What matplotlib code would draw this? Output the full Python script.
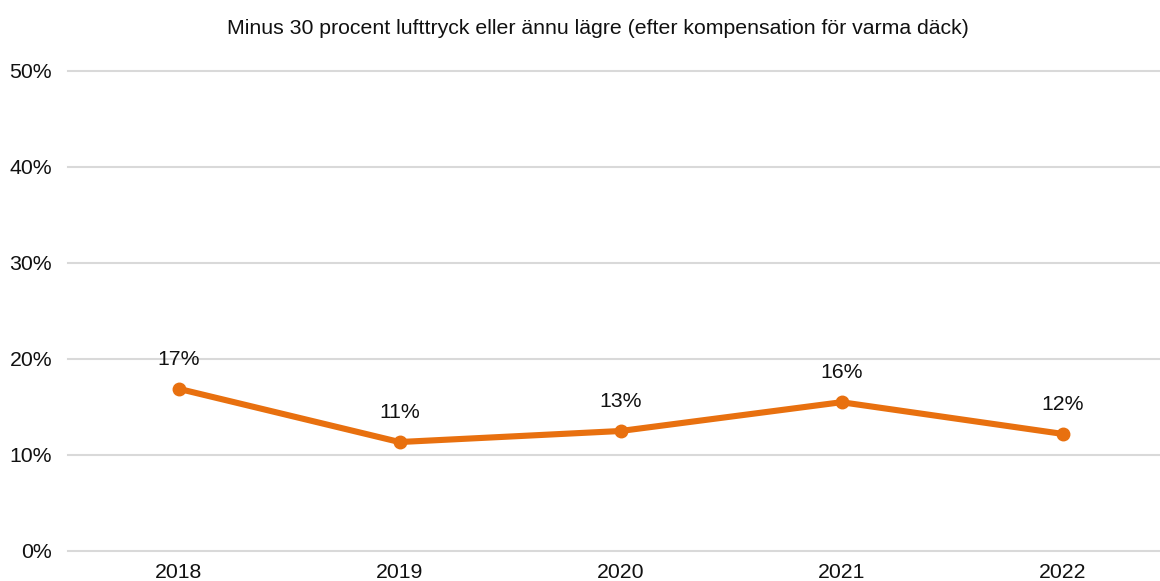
import matplotlib
matplotlib.use("Agg")
import matplotlib.pyplot as plt

# Data
years = ["2018", "2019", "2020", "2021", "2022"]
share = [0.169, 0.1135, 0.125, 0.155, 0.122]
labels = ["17%", "11%", "13%", "16%", "12%"]
yticks = [0, 0.1, 0.2, 0.3, 0.4, 0.5]
ytick_labels = ["0%", "10%", "20%", "30%", "40%", "50%"]

title = "Minus 30 procent lufttryck eller ännu lägre (efter kompensation för varma däck)"
orange = "#E8700F"

plt.rcParams["font.family"] = ["Liberation Sans", "DejaVu Sans"]
fs = 15.3

W, H = 1160, 581
fig = plt.figure(figsize=(W / 100, H / 100), dpi=100)
ax = fig.add_axes([68 / W, (H - 551) / H, (W - 68) / W, (551 - 71) / H])

x = list(range(len(years)))
ax.plot(x, share, color=orange, lw=4.4, marker="o", ms=9, solid_capstyle="round", zorder=3, clip_on=False)
for xi, yi, lab in zip(x, share, labels):
    ax.annotate(lab, (xi, yi), xytext=(0, 14.5), textcoords="offset points",
                ha="center", va="bottom", fontsize=fs, color="#111111")

ax.set_xlim(-0.5, (W - 68) / 221 - 0.5)
ax.set_ylim(0, 0.5)
ax.set_xticks(x)
ax.set_xticklabels(years)
ax.set_yticks(yticks)
ax.set_yticklabels(ytick_labels)
ax.tick_params(length=0, labelsize=fs, colors="#111111")
ax.tick_params(axis="y", pad=11.5)
ax.tick_params(axis="x", pad=9)
ax.grid(axis="y", color="#D9D9D9", lw=1.5)
for gl in ax.get_ygridlines():
    gl.set_clip_on(False)
ax.set_axisbelow(True)
for s in ax.spines.values():
    s.set_visible(False)

fig.text(598 / W, 1 - 28 / H, title, ha="center", va="center", fontsize=fs, color="#111111")

fig.savefig("out.png", dpi=100)
